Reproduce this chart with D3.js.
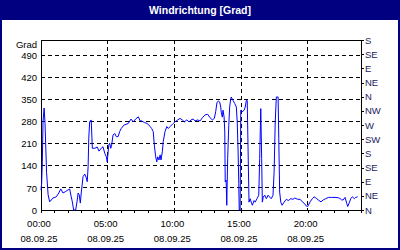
<!DOCTYPE html>
<html>
<head>
<meta charset="utf-8">
<script src="https://cdn.jsdelivr.net/npm/d3@7"></script>
<style>
  body { margin: 0; background: #fff; }
  svg { display: block; font-family: "Liberation Sans", Arial, sans-serif; }
</style>
</head>
<body>
<svg id="chart" width="400" height="250"></svg>
<script>
// time of day in minutes, wind direction in degrees
var minutes = [0, 3, 6, 9, 14, 18, 25, 32, 39, 54, 69, 80, 89, 99, 109, 122, 129, 136, 141, 147,
  156, 162, 167, 172, 177, 181, 185, 189, 197, 204, 208, 212, 215, 219, 226, 231, 242, 253, 261, 271,
  279, 287, 294, 298, 305, 309, 314, 318, 324, 332, 339, 347, 354, 361, 374,
  393, 405, 415, 426, 438, 446, 453, 465, 476, 483, 491, 498, 505, 510, 516, 521, 525, 531, 536, 540,
  546, 550, 558, 566, 573, 581, 588, 595, 603, 615, 626, 636, 645, 656, 666, 675, 685, 693, 705, 716,
  726, 738, 750, 761, 771, 780, 786, 792, 798,
  804, 809, 811, 816, 819, 824, 827, 829, 833, 836, 840, 845, 849, 854, 856, 864, 872, 879, 883, 887,
  890, 892, 896, 899, 905, 914, 919, 924, 928, 932, 936, 941, 946, 951, 959, 964, 972, 980, 984, 989,
  993, 996, 1000, 1007, 1014, 1022, 1029, 1036, 1044, 1049, 1054, 1059, 1067, 1070, 1074, 1079, 1085,
  1094, 1104, 1113, 1124, 1134, 1142, 1155, 1166, 1176, 1185, 1193, 1200, 1211, 1221, 1229, 1241, 1251,
  1260, 1270, 1281, 1293, 1308, 1323, 1338, 1346, 1353, 1360, 1368, 1376, 1380, 1386, 1394, 1401, 1410,
  1416, 1425];
var degrees = [63, 86, 153, 280, 324, 276, 120, 48, 26, 38, 42, 54, 67, 54, 58, 64, 67, 42, 26, 0,
  0, 26, 54, 48, 22, 54, 79, 106, 114, 102, 90, 138, 228, 280, 286, 196, 196, 200, 187, 196,
  201, 180, 169, 153, 206, 212, 196, 206, 238, 243, 233, 233, 249, 259, 270,
  275, 289, 280, 289, 296, 283, 283, 278, 275, 272, 265, 259, 249, 206, 169, 153, 169, 159, 175, 159,
  185, 217, 249, 265, 259, 265, 270, 275, 280, 286, 291, 286, 280, 286, 280, 286, 289, 283, 286, 283,
  293, 302, 304, 293, 286, 291, 312, 342, 346,
  343, 327, 311, 295, 317, 295, 248, 89, 95, 15, 163, 269, 327, 354, 359, 348, 338, 327, 280, 184,
  84, 0, 0, 317, 312, 317, 327, 348, 348, 184, 25, 36, 25, 15, 30, 25, 36, 47, 163, 322,
  163, 25, 41, 47, 36, 47, 41, 36, 47, 121, 280, 359, 359, 226, 57, 25, 15,
  25, 34, 30, 36, 34, 38, 34, 34, 26, 21, 13, 11, 26, 36, 42, 36, 30,
  26, 32, 36, 40, 40, 40, 39, 36, 32, 32, 40, 21, 11, 21, 36, 42, 36,
  40, 42];

var leftTicks = [0, 70, 140, 210, 280, 350, 420, 490];
var dirTicks = [0, 45, 90, 135, 180, 225, 270, 315, 360, 405, 450, 495, 540];
var dirLabels = ['N', 'NE', 'E', 'SE', 'S', 'SW', 'W', 'NW', 'N', 'NE', 'E', 'SE', 'S'];
var timeTicks = [0, 300, 600, 900, 1200];
var timeLabels = ['00:00', '05:00', '10:00', '15:00', '20:00'];
var dateLabel = '08.09.25';

var svg = d3.select('#chart'),
  width = 400, height = 250,
  plotL = 41, plotR = 361, plotT = 40, plotB = 210;

// frame + title bar
svg.append('rect').attr('x', 1).attr('y', 1).attr('width', width - 2).attr('height', height - 2)
  .attr('fill', '#fff').attr('stroke', '#000080').attr('stroke-width', 2);
svg.append('rect').attr('x', 0).attr('y', 0).attr('width', width).attr('height', 20).attr('fill', '#000080');
svg.append('text').attr('x', width / 2).attr('y', 14).attr('text-anchor', 'middle')
  .attr('fill', '#fff').attr('font-weight', 'bold').attr('font-size', '10.5px')
  .text('Windrichtung [Grad]');

var x = d3.scaleLinear().domain([0, 1440]).range([plotL, plotR]);
var y = d3.scaleLinear().domain([0, 540]).range([plotB, plotT]);

// grid
var grid = svg.append('g').attr('stroke', '#000').attr('stroke-dasharray', '4,3')
  .attr('shape-rendering', 'crispEdges');
grid.selectAll('.h').data(leftTicks.slice(1)).enter().append('line')
  .attr('x1', plotL).attr('x2', plotR).attr('y1', d => y(d)).attr('y2', d => y(d));
grid.selectAll('.v').data(timeTicks.slice(1)).enter().append('line')
  .attr('y1', plotT).attr('y2', plotB).attr('x1', d => x(d)).attr('x2', d => x(d));

// plot border
svg.append('rect').attr('x', plotL).attr('y', plotT).attr('width', plotR - plotL).attr('height', plotB - plotT)
  .attr('fill', 'none').attr('stroke', '#000').attr('shape-rendering', 'crispEdges');

// left axis
var yAxis = svg.append('g').attr('transform', 'translate(' + plotL + ',0)')
  .call(d3.axisLeft(y).tickValues(leftTicks).tickSize(0).tickPadding(4));
yAxis.select('.domain').remove();
yAxis.selectAll('text').attr('font-size', '9.5px').attr('fill', '#000').attr('font-family', null);
svg.append('text').attr('x', plotL - 4).attr('y', 48).attr('text-anchor', 'end')
  .attr('font-size', '9.5px').text('Grad');

// right axis
var rAxis = svg.append('g').attr('transform', 'translate(' + plotR + ',0)')
  .call(d3.axisRight(y).tickValues(dirTicks).tickFormat((d, i) => dirLabels[i]).tickSize(3).tickPadding(1).tickSizeOuter(0));
rAxis.select('.domain').remove();
rAxis.selectAll('line').attr('shape-rendering', 'crispEdges');
rAxis.selectAll('text').attr('font-size', '9.5px').attr('fill', '#1c1c5c').attr('font-family', null);

// bottom axis: hourly ticks
var xAxis = svg.append('g').attr('transform', 'translate(0,' + plotB + ')')
  .call(d3.axisBottom(x).tickValues(d3.range(0, 1441, 60)).tickFormat('').tickSize(3).tickSizeOuter(0));
xAxis.select('.domain').remove();
xAxis.selectAll('line').attr('shape-rendering', 'crispEdges');

var xLab = svg.append('g').attr('font-size', '9.5px').attr('text-anchor', 'middle');
xLab.selectAll('.t').data(timeTicks).enter().append('text')
  .attr('x', d => x(d) - 2).attr('y', 227).text((d, i) => timeLabels[i]);
xLab.selectAll('.d').data(timeTicks).enter().append('text')
  .attr('x', d => x(d) - 2).attr('y', 242).text(dateLabel);

// the series
var line = d3.line().x((d, i) => x(minutes[i])).y(d => y(d));
svg.append('path').datum(degrees).attr('d', line)
  .attr('fill', 'none').attr('stroke', '#0000ff').attr('stroke-width', 1);
</script>
</body>
</html>
